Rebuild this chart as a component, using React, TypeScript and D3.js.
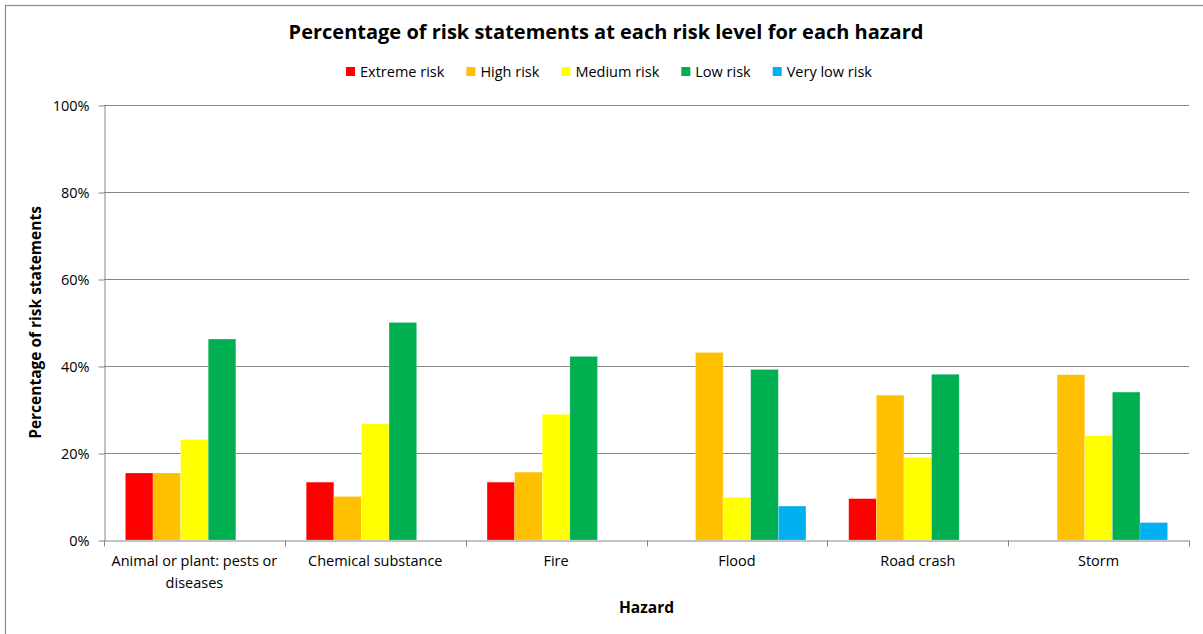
import React, { useEffect, useRef } from "react"
import * as d3 from "d3"

const W = 1203, H = 634;
const MARGIN = { left: 104, top: 105, right: 14, bottom: 94 };

const categories = ["Animal or plant: pests or diseases", "Chemical substance", "Fire", "Flood", "Road crash", "Storm"];
const seriesNames = ["Extreme risk", "High risk", "Medium risk", "Low risk", "Very low risk"];
const seriesColors = ["#ff0000", "#ffc000", "#ffff00", "#00b050", "#00b0f0"];

// percent of statements, one array per risk level, in category order
const extremeRisk = [15.4, 13.3, 13.3, 0, 9.5, 0];
const highRisk = [15.4, 10.0, 15.6, 43.1, 33.3, 38.0];
const mediumRisk = [23.1, 26.7, 28.9, 9.8, 19.0, 24.0];
const lowRisk = [46.2, 50.0, 42.2, 39.2, 38.1, 34.0];
const veryLowRisk = [0, 0, 0, 7.8, 0, 4.0];
const yTicks = [0, 20, 40, 60, 80, 100];

const FONT = "'Open Sans', 'Noto Sans', sans-serif";
const FS = 14.5;

export default function App() {
	const ref = useRef<SVGSVGElement>(null);

	useEffect(() => {
		const svg = d3.select(ref.current);
		svg.selectAll("*").remove();

		const values = [extremeRisk, highRisk, mediumRisk, lowRisk, veryLowRisk];
		const x0 = MARGIN.left, x1 = W - MARGIN.right;
		const yBottom = H - MARGIN.bottom, yTop = MARGIN.top;

		const x = d3.scaleBand<string>().domain(categories).range([x0, x1]).paddingInner(0).paddingOuter(0);
		const xs = d3.scaleBand<string>().domain(seriesNames).range([0, x.bandwidth()]).paddingInner(0).paddingOuter(0.775);
		const y = d3.scaleLinear().domain([0, 100]).range([yBottom, yTop]);

		// border
		svg.append("rect").attr("x", 5.5).attr("y", 5.5).attr("width", W - 4).attr("height", H - 4)
			.attr("fill", "#fff").attr("stroke", "#8c8c8c").attr("stroke-width", 1.2);

		// gridlines
		svg.append("g").selectAll("line").data(yTicks.filter(d => d > 0)).join("line")
			.attr("x1", x0).attr("x2", x1)
			.attr("y1", d => Math.round(y(d)) + 0.5).attr("y2", d => Math.round(y(d)) + 0.5)
			.attr("stroke", "#868686").attr("stroke-width", 1);

		// bars
		const groups = svg.append("g").selectAll("g").data(values).join("g")
			.attr("fill", (d, i) => seriesColors[i]);
		groups.selectAll("rect").data((d, i) => d.map((v, j) => ({ v, cat: categories[j], s: seriesNames[i] })))
			.join("rect")
			.attr("x", d => x(d.cat)! + xs(d.s)!)
			.attr("width", xs.bandwidth())
			.attr("y", d => y(d.v))
			.attr("height", d => yBottom - y(d.v))
			.attr("stroke", "#ffffff").attr("stroke-opacity", 0.35).attr("stroke-width", 0.6)
			.attr("display", d => d.v > 0 ? null : "none");

		// y axis
		const yAxis = d3.axisLeft(y).tickValues(yTicks).tickSizeInner(6).tickSizeOuter(0).tickPadding(9)
			.tickFormat(d => d + "%");
		const gy = svg.append("g").attr("transform", `translate(${x0 + 0.5},0.5)`).call(yAxis);
		gy.select(".domain").attr("stroke", "#868686");
		gy.selectAll(".tick line").attr("stroke", "#868686");
		gy.selectAll("text").attr("font-family", FONT).attr("font-size", FS).attr("fill", "#000");

		// x axis
		const xAxis = d3.axisBottom(x).tickSize(0).tickFormat(() => "");
		const gx = svg.append("g").attr("transform", `translate(0,${yBottom + 0.5})`).call(xAxis);
		gx.select(".domain").attr("stroke", "#868686");
		const bounds = categories.map(c => x(c)!).concat([x1]);
		gx.selectAll("line.sep").data(bounds).join("line").attr("class", "sep")
			.attr("x1", d => Math.round(d) + 0.5).attr("x2", d => Math.round(d) + 0.5)
			.attr("y1", 0).attr("y2", 6).attr("stroke", "#868686");

		// category labels, wrapped to the band width
		const labels = svg.append("g").selectAll("text").data(categories).join("text")
			.attr("x", d => x(d)! + x.bandwidth() / 2)
			.attr("y", yBottom + 26)
			.attr("text-anchor", "middle")
			.attr("font-family", FONT).attr("font-size", FS).attr("fill", "#000");
		labels.each(function (d) {
			const t = d3.select(this);
			const words = d.split(" ");
			let line: string[] = [];
			let ts = t.append("tspan").attr("x", t.attr("x")).attr("dy", 0);
			for (const w of words) {
				line.push(w);
				ts.text(line.join(" "));
				if ((ts.node() as SVGTSpanElement).getComputedTextLength() > x.bandwidth() - 8 && line.length > 1) {
					line.pop();
					ts.text(line.join(" "));
					line = [w];
					ts = t.append("tspan").attr("x", t.attr("x")).attr("dy", 22).text(w);
				}
			}
		});

		// axis titles
		svg.append("text").attr("x", (x0 + x1) / 2).attr("y", yBottom + 73)
			.attr("text-anchor", "middle").attr("font-family", FONT).attr("font-weight", "bold")
			.attr("font-size", 15.5).text("Hazard");
		svg.append("text").attr("transform", `translate(41,${(yTop + yBottom) / 2}) rotate(-90)`)
			.attr("text-anchor", "middle").attr("font-family", FONT).attr("font-weight", "bold")
			.attr("font-size", 15.5).text("Percentage of risk statements");

		// title
		svg.append("text").attr("x", 606).attr("y", 39)
			.attr("text-anchor", "middle").attr("font-family", FONT).attr("font-weight", "bold")
			.attr("font-size", 20).attr("fill", "#000")
			.text("Percentage of risk statements at each risk level for each hazard");

		// legend
		const leg = svg.append("g");
		let cx = 0;
		seriesNames.forEach((s, i) => {
			const item = leg.append("g").attr("transform", `translate(${cx},0)`);
			item.append("rect").attr("x", 0).attr("y", -10).attr("width", 9).attr("height", 9).attr("fill", seriesColors[i]);
			const t = item.append("text").attr("x", 14).attr("y", 0)
				.attr("font-family", FONT).attr("font-size", FS).attr("fill", "#000").text(s);
			cx += 14 + (t.node() as SVGTextElement).getComputedTextLength() + 22;
		});
		const legW = cx - 22;
		leg.attr("transform", `translate(${609 - legW / 2},77)`);
	}, []);

	return (
		<svg ref={ref} width={W} height={H} style={{ position: "absolute", left: 0, top: 0, display: "block", background: "#fff" }} />
	);
}
